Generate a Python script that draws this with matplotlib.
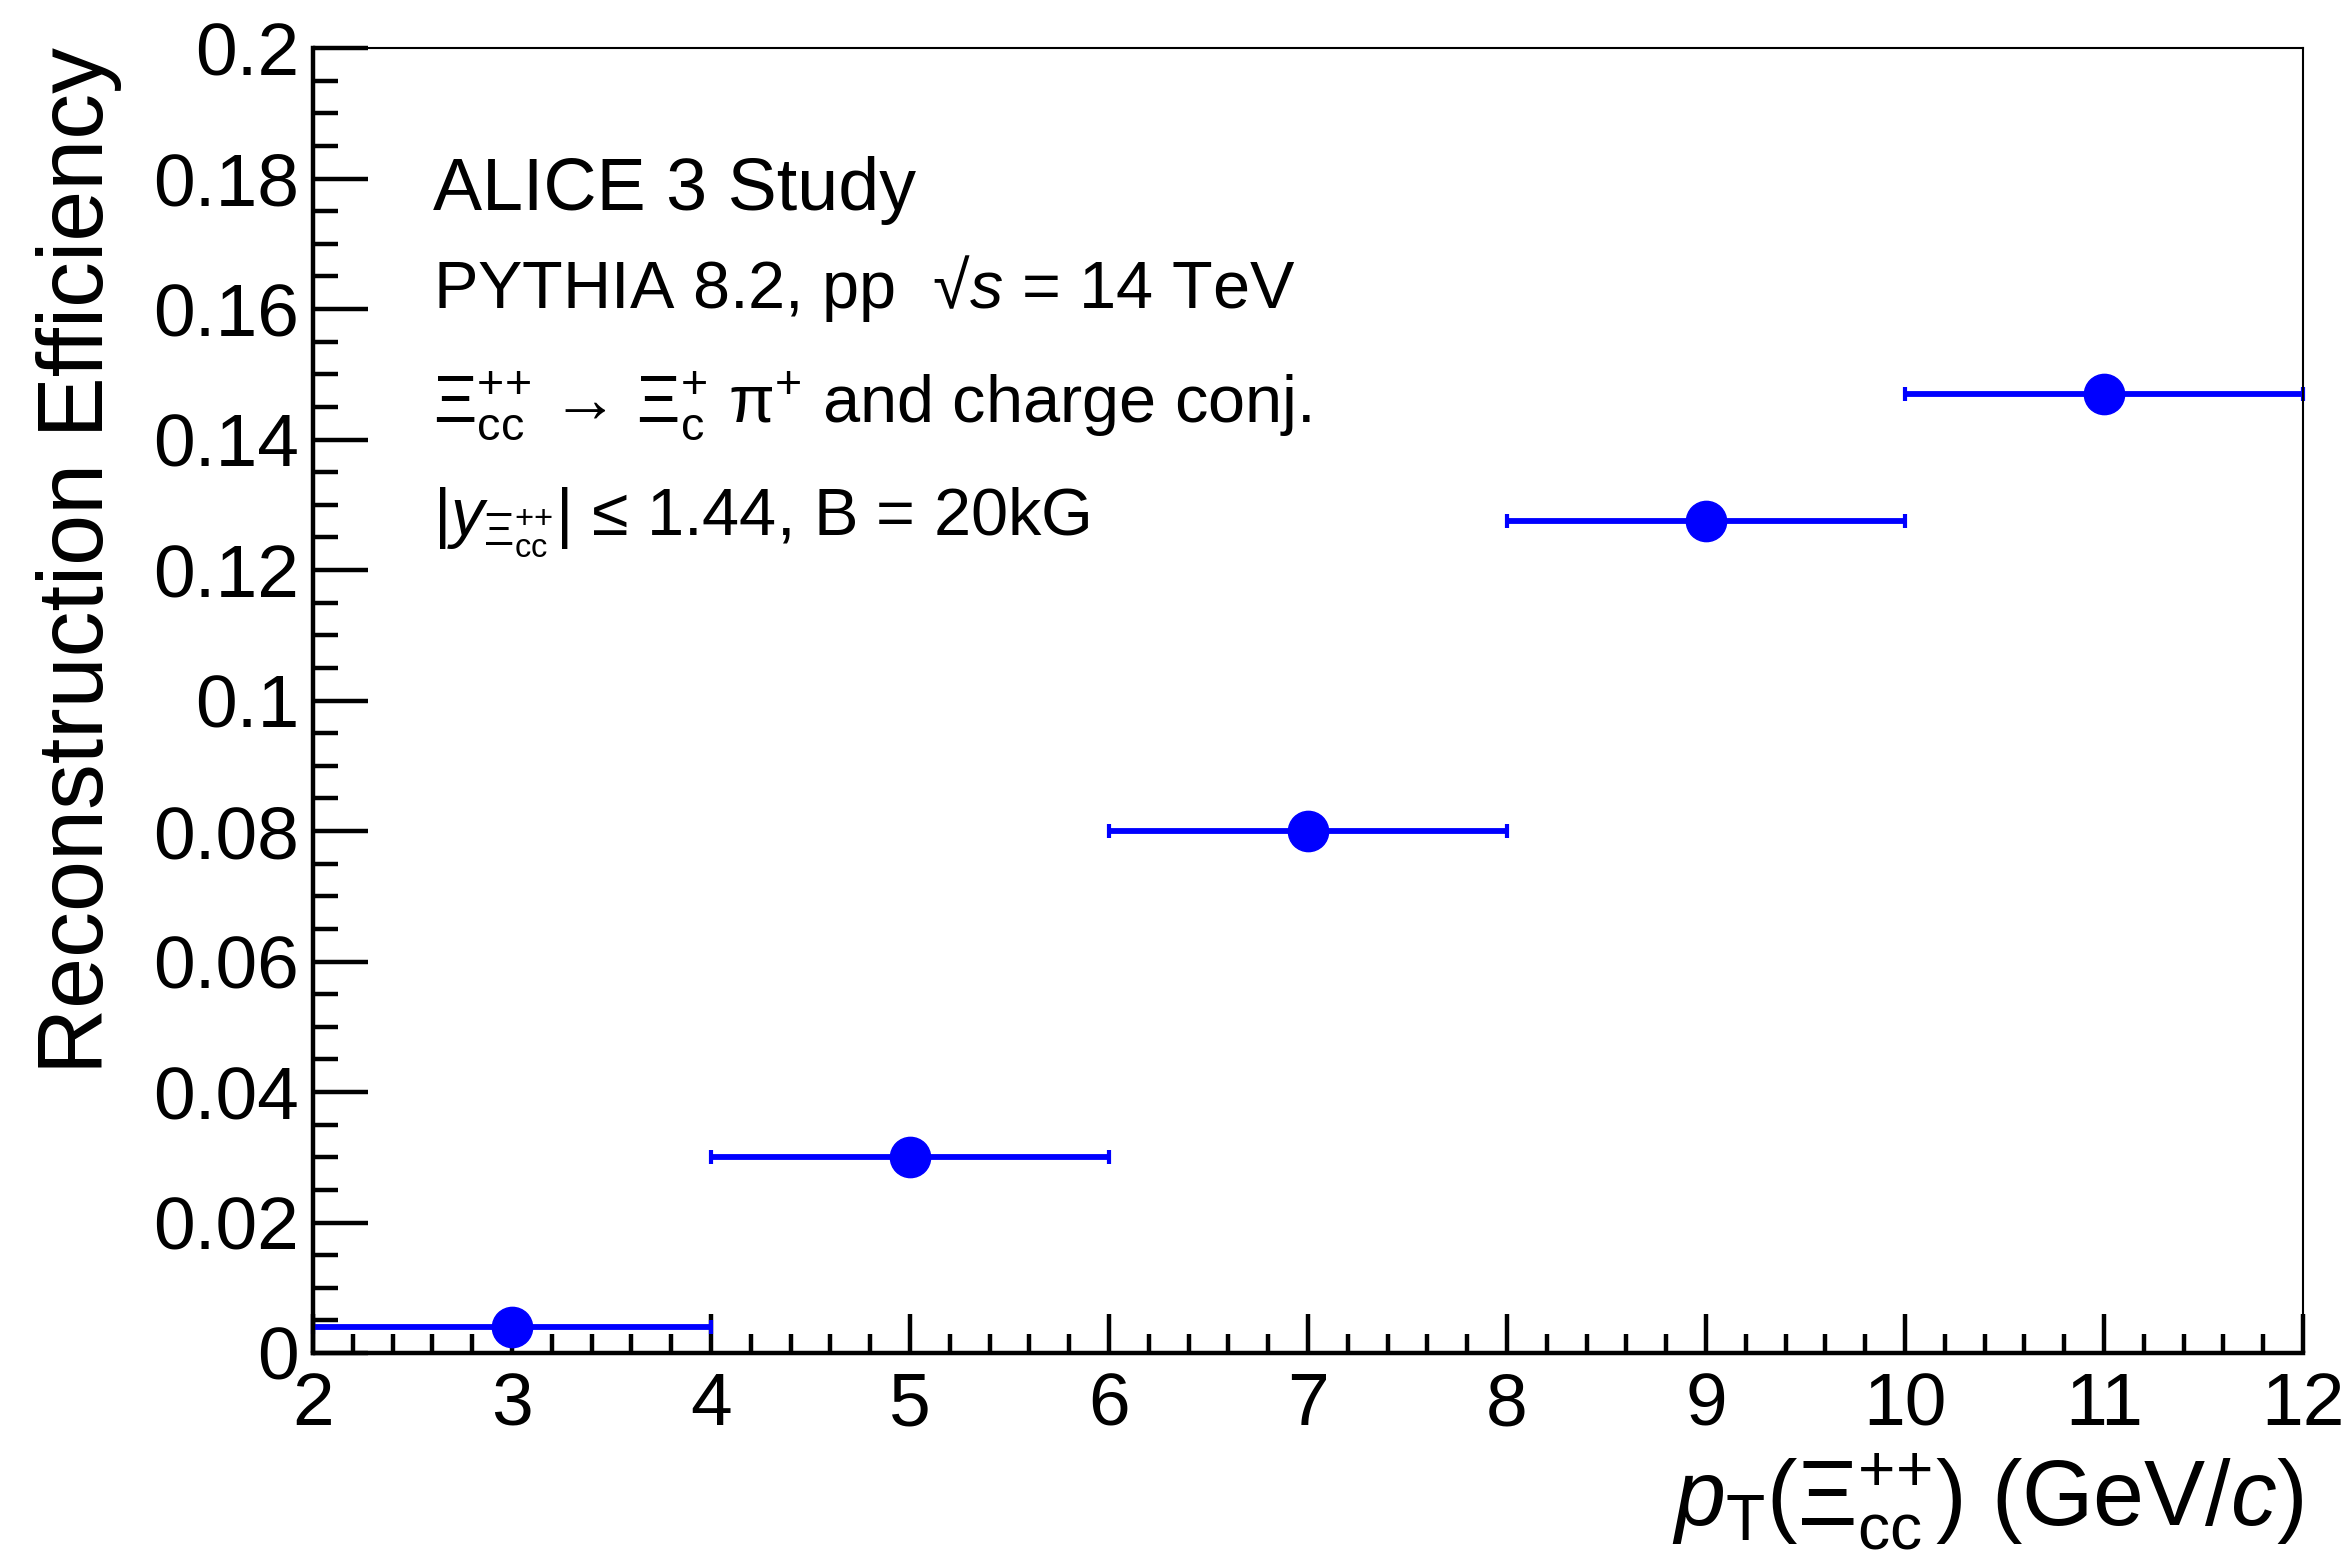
import matplotlib
matplotlib.use("Agg")
import matplotlib.pyplot as plt
from matplotlib.ticker import MultipleLocator, FuncFormatter

plt.rcParams['font.family'] = ['Liberation Sans', 'DejaVu Sans']
plt.rcParams['mathtext.fontset'] = 'custom'
plt.rcParams['mathtext.rm'] = 'Liberation Sans'
plt.rcParams['mathtext.it'] = 'Liberation Sans:italic'
plt.rcParams['mathtext.bf'] = 'Liberation Sans:bold'

# ---- data ----
pt_centers = [3, 5, 7, 9, 11]
pt_halfwidth = [1, 1, 1, 1, 1]
efficiency = [0.004, 0.030, 0.080, 0.1275, 0.147]

x_range = (2, 12)
y_range = (0, 0.2)

W, H = 2347, 1565
DPI = 100
fig = plt.figure(figsize=(W / DPI, H / DPI), dpi=DPI)
L, R, T, B = 313, 2303, 48, 1353
ax = fig.add_axes([L / W, 1 - B / H, (R - L) / W, (B - T) / H])

ax.errorbar(pt_centers, efficiency, xerr=pt_halfwidth, fmt='o', color='#0000ff',
            markersize=29, elinewidth=4.2, capsize=4.7, capthick=3, zorder=2,
            clip_on=False)

ax.set_xlim(*x_range)
ax.set_ylim(*y_range)

ax.xaxis.set_major_locator(MultipleLocator(1))
ax.xaxis.set_minor_locator(MultipleLocator(0.2))
ax.yaxis.set_major_locator(MultipleLocator(0.02))
ax.yaxis.set_minor_locator(MultipleLocator(0.005))
fmt = FuncFormatter(lambda v, p: f"{round(v, 6):g}")
ax.yaxis.set_major_formatter(fmt)
ax.xaxis.set_major_formatter(fmt)

for s in ['left', 'bottom']:
    ax.spines[s].set_linewidth(3.2)
for s in ['top', 'right']:
    ax.spines[s].set_linewidth(1.5)

ax.tick_params(axis='both', which='both', direction='in', top=False, right=False,
               width=3.2, labelsize=54)
ax.tick_params(axis='y', which='major', length=39.6, pad=10)
ax.tick_params(axis='y', which='minor', length=18)
ax.tick_params(axis='x', which='major', length=28, pad=13)
ax.tick_params(axis='x', which='minor', length=14)

# axis titles
fig.text(103 / W, 1 - 47 / H, 'Reconstruction Efficiency', rotation=90,
         rotation_mode='anchor', ha='right', va='baseline', fontsize=66)
fig.text(2303 / W, 1 - 1525 / H,
         r'$p_{\mathrm{T}}(\Xi^{{+}{+}}_{\mathrm{cc}})$ (GeV/$c$)',
         ha='right', va='baseline', fontsize=66)

# annotation text
tx = 433 / W
fig.text(tx, 1 - 210 / H, 'ALICE 3 Study', fontsize=53, va='baseline')
fig.text(tx, 1 - 308 / H, 'PYTHIA 8.2, pp  \u221a$s$ = 14 TeV', fontsize=48, va='baseline')
fig.text(tx, 1 - 423 / H,
         r'$\Xi^{{+}{+}}_{\mathrm{cc}}$ \u2192 $\Xi^{+}_{\mathrm{c}}$ \u03c0$^{+}$ and charge conj.'
         .replace('\\u2192', '\u2192').replace('\\u03c0', '\u03c0'),
         fontsize=48, va='baseline')
fig.text(tx, 1 - 535 / H,
         '|$y_{\\Xi^{{+}{+}}_{\\mathrm{cc}}}$| \u2264 1.44, B = 20kG',
         fontsize=48, va='baseline')

fig.savefig('out.png', dpi=DPI)
